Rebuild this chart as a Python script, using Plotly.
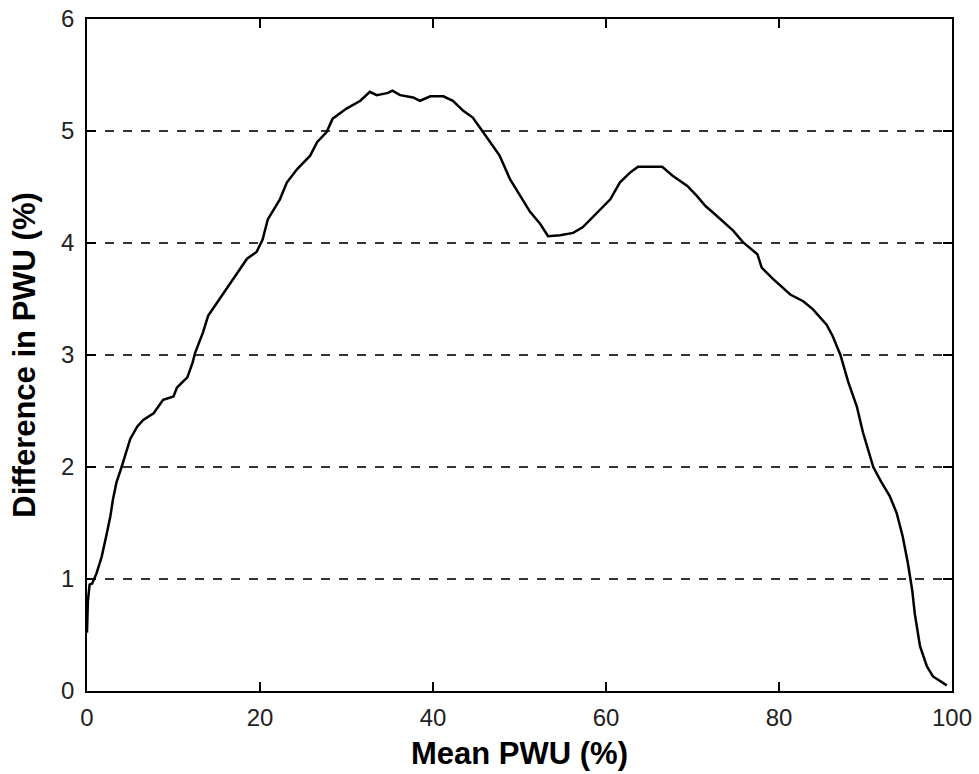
import plotly.graph_objects as go

# Mean PWU (%) and difference in PWU (%) along the curve
mean_pwu = [0.0, 0.1, 0.3, 0.6, 1.1, 1.7, 2.3, 2.7, 3.0, 3.4, 4.0, 4.6, 5.0, 5.8, 6.5, 7.7,
            8.8, 10.0, 10.4, 11.6, 12.2, 12.5, 13.4, 14.0, 15.4, 16.9, 18.5, 19.6, 20.3,
            20.9, 22.3, 23.1, 24.3, 25.8, 26.6, 27.7, 28.4, 30.0, 31.6, 32.7, 33.5, 34.8,
            35.3, 36.2, 37.7, 38.5, 39.7, 41.2, 42.3, 43.5, 44.6, 45.7, 46.6, 47.7, 48.9,
            50.1, 51.2, 52.4, 53.3, 54.7, 56.2, 57.3, 59.0, 60.5, 61.6, 62.8, 63.7, 66.5,
            67.7, 69.4, 70.5, 71.5, 72.4, 74.7, 75.8, 77.5, 78.0, 79.3, 81.3, 82.8, 83.9,
            85.5, 86.2, 87.1, 88.0, 89.0, 89.7, 90.9, 91.8, 92.8, 93.6, 94.3, 94.9, 95.4,
            95.7, 96.3, 97.1, 97.8, 99.4]
diff_pwu = [0.52, 0.80, 0.95, 0.96, 1.05, 1.20, 1.41, 1.56, 1.71, 1.86, 2.00, 2.15, 2.25,
            2.36, 2.42, 2.48, 2.60, 2.63, 2.71, 2.80, 2.93, 3.02, 3.20, 3.35, 3.51, 3.68,
            3.86, 3.92, 4.03, 4.21, 4.39, 4.54, 4.66, 4.78, 4.90, 4.99, 5.11, 5.20, 5.27,
            5.35, 5.32, 5.34, 5.36, 5.32, 5.30, 5.27, 5.31, 5.31, 5.27, 5.18, 5.12, 5.00,
            4.90, 4.78, 4.57, 4.42, 4.28, 4.17, 4.06, 4.07, 4.09, 4.14, 4.27, 4.39, 4.54,
            4.63, 4.68, 4.68, 4.60, 4.51, 4.42, 4.33, 4.27, 4.11, 4.01, 3.90, 3.78, 3.68,
            3.54, 3.48, 3.41, 3.27, 3.17, 3.00, 2.76, 2.54, 2.31, 2.00, 1.87, 1.74, 1.59,
            1.38, 1.14, 0.90, 0.69, 0.40, 0.22, 0.13, 0.05]

x_ticks = [0, 20, 40, 60, 80, 100]
y_ticks = [0, 1, 2, 3, 4, 5, 6]

fig = go.Figure()
fig.add_trace(go.Scatter(x=mean_pwu, y=diff_pwu, mode="lines",
                         line=dict(color="black", width=2.5), showlegend=False))

tick_font = dict(family="Liberation Sans, Arial, sans-serif", size=24, color="#222")
title_font = dict(family="Liberation Sans, Arial, sans-serif", size=31, color="black")

fig.update_layout(
    width=979, height=774,
    margin=dict(l=87, r=27, t=19, b=83),
    paper_bgcolor="white", plot_bgcolor="white",
    xaxis=dict(range=[0, 100], tickvals=x_ticks, ticks="inside", ticklen=9,
               tickcolor="black", tickwidth=1.5, showline=True, linecolor="black",
               linewidth=1.5, mirror="ticks", showgrid=False, zeroline=False,
               automargin=False, tickfont=tick_font, ticklabelstandoff=4,
               title=dict(text="<b>Mean PWU (%)</b>", font=title_font, standoff=13)),
    yaxis=dict(range=[0, 6], tickvals=y_ticks, ticks="inside", ticklen=9,
               tickcolor="black", tickwidth=1.5, showline=True, linecolor="black",
               linewidth=1.5, mirror="ticks", showgrid=True, gridcolor="#333",
               gridwidth=1.5, griddash="dash", zeroline=False, automargin=False,
               tickfont=tick_font, ticklabelstandoff=6,
               title=dict(text="<b>Difference in PWU (%)</b>", font=title_font, standoff=16)),
)

fig.write_html("out.html")
